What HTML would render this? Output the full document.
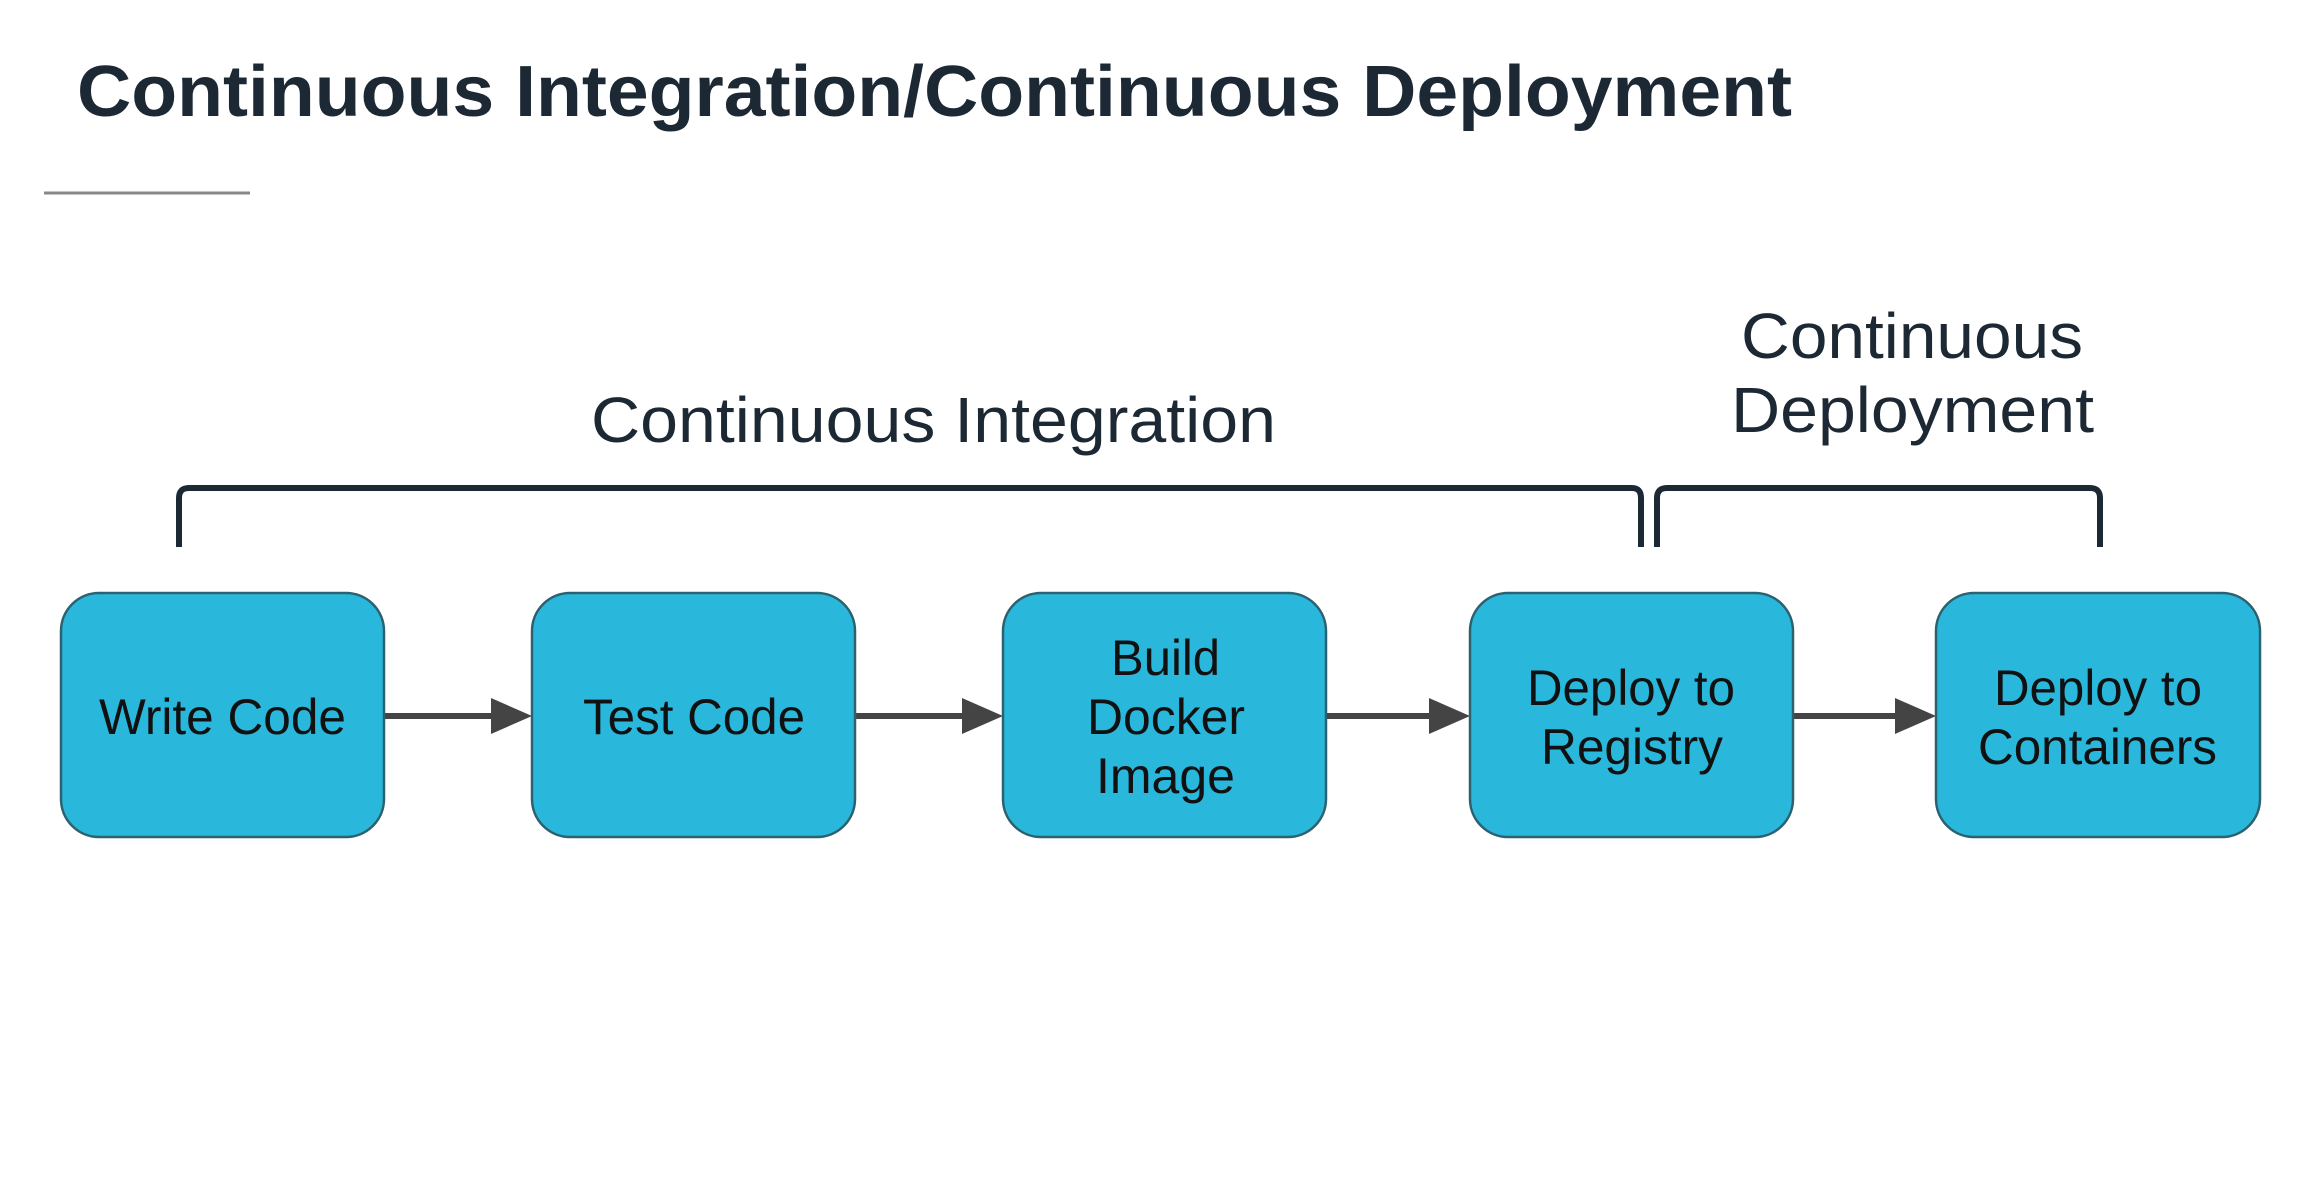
<!DOCTYPE html>
<html><head><meta charset="utf-8"><style>
html,body{margin:0;padding:0;background:#fff;}
svg{display:block;}
</style></head><body>
<svg width="2316" height="1182" viewBox="0 0 2316 1182" xmlns="http://www.w3.org/2000/svg">
<rect width="2316" height="1182" fill="#fff"/>
<text x="77" y="116" font-family="Liberation Sans, sans-serif" font-weight="bold" font-size="72" fill="#1c2833" textLength="1715" lengthAdjust="spacingAndGlyphs">Continuous Integration/Continuous Deployment</text>
<line x1="44" y1="193" x2="250" y2="193" stroke="#888" stroke-width="3"/>
<g font-family="Liberation Sans, sans-serif" font-size="64" fill="#1c2833">
<text x="591" y="442" textLength="685" lengthAdjust="spacingAndGlyphs">Continuous Integration</text>
<text x="1741" y="358" textLength="342" lengthAdjust="spacingAndGlyphs">Continuous</text>
<text x="1731" y="432" textLength="363" lengthAdjust="spacingAndGlyphs">Deployment</text>
</g>
<g fill="none" stroke="#1c2833" stroke-width="6">
<path d="M179 547 V498 Q179 488 189 488 H1632 Q1641 488 1641 498 V547"/>
<path d="M1657 547 V498 Q1657 488 1667 488 H2090 Q2100 488 2100 498 V547"/>
</g>
<g stroke="#444" stroke-width="6">
<line x1="384" y1="716" x2="495" y2="716"/>
<line x1="855" y1="716" x2="966" y2="716"/>
<line x1="1326" y1="716" x2="1433" y2="716"/>
<line x1="1793" y1="716" x2="1899" y2="716"/>
</g>
<g fill="#444">
<polygon points="491,698 532,716 491,734"/>
<polygon points="962,698 1003,716 962,734"/>
<polygon points="1429,698 1470,716 1429,734"/>
<polygon points="1895,698 1936,716 1895,734"/>
</g>
<g fill="#29b8dc" stroke="#2c6170" stroke-width="2.5">
<rect x="61" y="593" width="323" height="244" rx="38"/>
<rect x="532" y="593" width="323" height="244" rx="38"/>
<rect x="1003" y="593" width="323" height="244" rx="38"/>
<rect x="1470" y="593" width="323" height="244" rx="38"/>
<rect x="1936" y="593" width="324" height="244" rx="38"/>
</g>
<g font-family="Liberation Sans, sans-serif" font-size="50" fill="#111">
<text x="99" y="734" textLength="247" lengthAdjust="spacingAndGlyphs">Write Code</text>
<text x="583" y="734" textLength="222" lengthAdjust="spacingAndGlyphs">Test Code</text>
<text x="1111" y="675" textLength="109" lengthAdjust="spacingAndGlyphs">Build</text>
<text x="1087" y="734" textLength="158" lengthAdjust="spacingAndGlyphs">Docker</text>
<text x="1096" y="793" textLength="139" lengthAdjust="spacingAndGlyphs">Image</text>
<text x="1527" y="705" textLength="208" lengthAdjust="spacingAndGlyphs">Deploy to</text>
<text x="1541" y="764" textLength="182" lengthAdjust="spacingAndGlyphs">Registry</text>
<text x="1994" y="705" textLength="208" lengthAdjust="spacingAndGlyphs">Deploy to</text>
<text x="1978" y="764" textLength="239" lengthAdjust="spacingAndGlyphs">Containers</text>
</g>
</svg>
</body></html>
